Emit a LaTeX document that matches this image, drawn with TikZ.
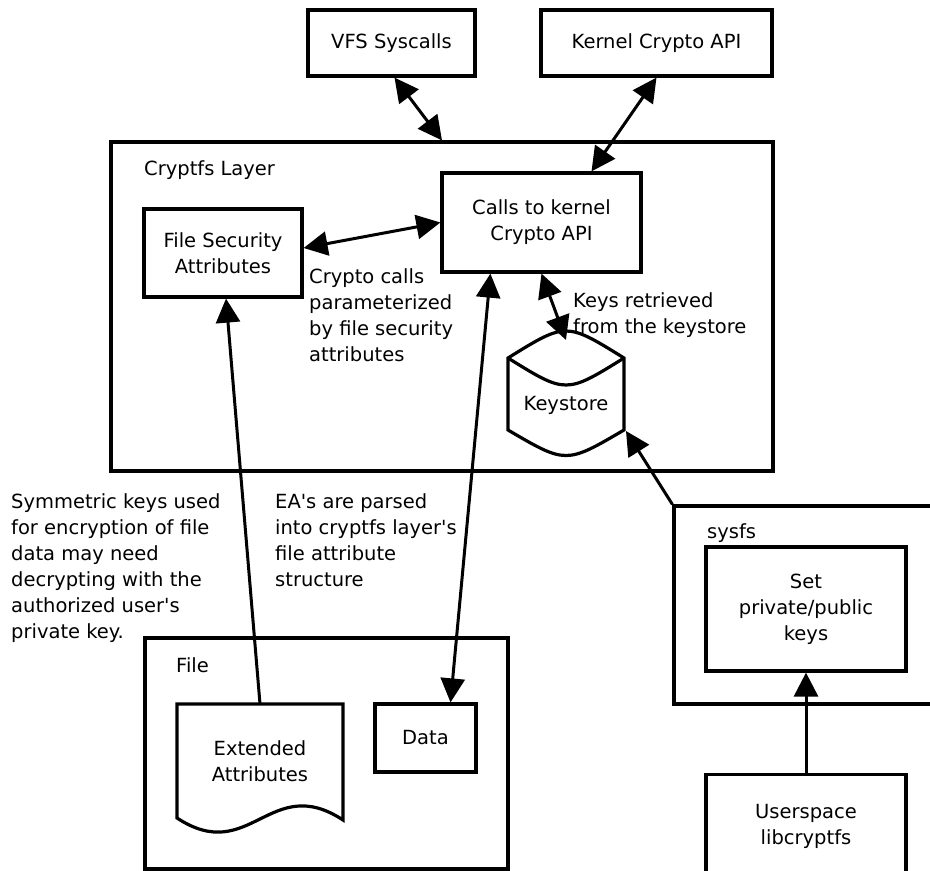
\documentclass[tikz,border=0pt]{standalone}
\usepackage{fontspec}
\setmainfont{DejaVu Sans}
\usepackage{tikz}
\usetikzlibrary{
    arrows.meta,
    positioning,
    calc
}
\tikzset{
    cfBox/.style={
        draw,
        line width=3.2pt,
        align=center,
        inner sep=0pt
    },
    cfShape/.style={
        align=center,
        inner sep=0pt,
        outer sep=0pt
    },
    cfLine/.style={line width=3.2pt,line join=miter},
    cfNote/.style={anchor=north west,align=left,inner sep=0pt},
    cfArrow/.style={-{Triangle[length=24pt,width=24pt]},line width=3pt},
    cfBoth/.style={{Triangle[length=24pt,width=24pt]}-{Triangle[length=24pt,width=24pt]},line width=3pt}
}

\begin{document}
\begin{tikzpicture}[x=1pt,y=-1pt,font=\fontsize{19.5pt}{26pt}\selectfont]
    \useasboundingbox (0,0) rectangle (930,871);

    % top boxes
    \node[cfBox,minimum width=167pt,minimum height=66pt] (vfs) at (391.5,43) {VFS Syscalls};
    \node[cfBox,minimum width=231pt,minimum height=66pt] (kapi) at (656.5,43) {Kernel Crypto API};

    % cryptfs layer
    \node[cfBox,minimum width=662pt,minimum height=329pt] (cryptfs) at (442,306.5) {};
    \node[cfNote] (cryptfslbl) at (144,160) {Cryptfs Layer};
    \node[cfBox,minimum width=199pt,minimum height=99pt] (calls) at (541.5,222.5)
        {Calls to kernel\\Crypto API};
    \node[cfBox,minimum width=158pt,minimum height=88pt] (fsa) at (223,253)
        {File Security\\Attributes};
    \node[cfShape,minimum width=116pt,minimum height=107pt,text height=38pt,text depth=5pt]
        (keystore) at (566,393.5) {Keystore};
    \draw[cfLine] ($(keystore.north west)+(0,18)$) .. controls ($(keystore.north)+(0,-18)$)
        .. ($(keystore.north east)+(0,18)$) -- ($(keystore.south east)+(0,-17)$)
        .. controls ($(keystore.south)+(0,17)$) .. ($(keystore.south west)+(0,-17)$) -- cycle;
    \draw[cfLine] ($(keystore.north west)+(0,18)$) .. controls ($(keystore.north)+(0,54)$)
        .. ($(keystore.north east)+(0,18)$);
    \node[cfNote] (cryptonote) at (309,268)
        {Crypto calls\\parameterized\\by file security\\attributes};
    \node[cfNote] (keysnote) at (573,292) {Keys retrieved\\from the keystore};

    % notes between the layers
    \node[cfNote] (symnote) at (11,493)
        {Symmetric keys used\\for encryption of file\\data may need\\decrypting with the\\authorized user\textquotesingle s\\private key.};
    \node[cfNote] (eanote) at (275,493)
        {EA\textquotesingle s are parsed\\into cryptfs layer\textquotesingle s\\file attribute\\structure};

    % file
    \node[cfBox,minimum width=363pt,minimum height=231pt] (fileb) at (326.5,753.5) {};
    \node[cfNote] (filelbl) at (176,657) {File};
    \node[cfShape,minimum width=166pt,minimum height=114pt] (ea) at (260,761)
        {Extended\\Attributes};
    \draw[cfLine] ($(ea.south east)+(0,2)$) -- (ea.north east) -- (ea.north west)
        -- (ea.south west) .. controls ($(ea.south west)+(73,48)$)
        and ($(ea.south east)+(-73,-46)$) .. ($(ea.south east)+(0,2)$) -- cycle;
    \node[cfBox,minimum width=101pt,minimum height=68pt] (data) at (425.5,738) {Data};

    % sysfs and userspace
    \node[cfBox,minimum width=276pt,minimum height=198pt] (sysfs) at (812,605) {};
    \node[cfNote] (sysfslbl) at (707,523) {sysfs};
    \node[cfBox,minimum width=200pt,minimum height=124pt] (setkeys) at (806,609)
        {Set\\private/public\\keys};
    \node[cfBox,minimum width=200pt,minimum height=104pt,below=100pt of setkeys] (userspace)
        {Userspace\\libcryptfs};

    % arrows
    \draw[cfBoth] (vfs.south) ++(3,0) -- (cryptfs.north);
    \draw[cfBoth] (kapi.south) -- ($(calls.north)+(50,0)$);
    \draw[cfBoth] ($(fsa.east)+(0,-5)$) -- (calls.west);
    \draw[cfBoth] (calls.south) -- (keystore.north);
    \draw[cfBoth] ($(calls.south west)+(50,0)$) -- ($(data.north)+(25,0)$);
    \draw[cfArrow] (ea.north) -- ($(fsa.south)+(3,0)$);
    \draw[cfArrow] (sysfs.north west) -- ($(keystore.south east)+(2,-16)$);
    \draw[cfArrow] (userspace.north) -- (setkeys.south);
\end{tikzpicture}
\end{document}
